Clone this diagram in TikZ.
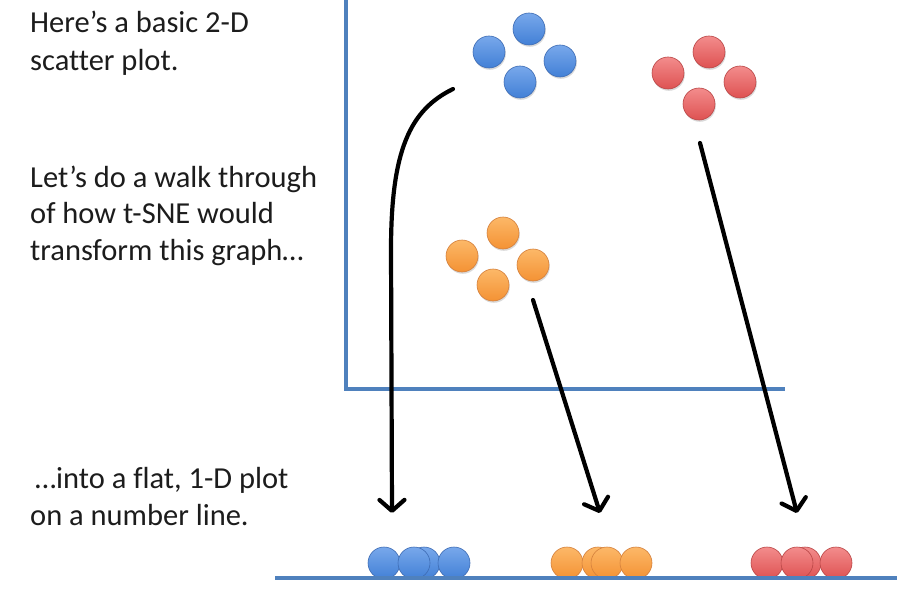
\documentclass[tikz,border=0pt]{standalone}
\usepackage{fontspec}
\setmainfont{Carlito}[Ligatures={NoCommon}]
\usetikzlibrary{arrows.meta}
\definecolor{axisblue}{RGB}{79,129,189}
\definecolor{bluetop}{RGB}{120,168,235}
\definecolor{bluebot}{RGB}{66,128,214}
\definecolor{blueedge}{RGB}{62,108,180}
\definecolor{redtop}{RGB}{243,140,140}
\definecolor{redbot}{RGB}{222,82,82}
\definecolor{rededge}{RGB}{185,70,70}
\definecolor{orgtop}{RGB}{252,184,104}
\definecolor{orgbot}{RGB}{244,146,52}
\definecolor{orgedge}{RGB}{212,128,60}
\definecolor{txt}{RGB}{28,28,28}
\tikzset{
  ball/.style={circle, minimum size=32pt, inner sep=0pt, line width=0.6pt},
  blueball/.style={ball, top color=bluetop, bottom color=bluebot, draw=blueedge},
  redball/.style={ball, top color=redtop, bottom color=redbot, draw=rededge},
  orgball/.style={ball, top color=orgtop, bottom color=orgbot, draw=orgedge},
  shadowball/.style={circle, minimum size=32pt, inner sep=0pt, fill=black, opacity=0.15},
  axis/.style={draw=axisblue, line width=3.2pt},
  mover/.style={draw=black, line width=4.2pt, line cap=round,
    -{Straight Barb[length=11pt,width=25pt,line width=4.2pt,line cap=round,line join=round]}},
  label/.style={anchor=base west, inner sep=0pt, text=txt, font=\fontsize{30.5}{37}\selectfont}
}
\begin{document}
\begin{tikzpicture}[x=1pt,y=-1pt]
\useasboundingbox (0,0) rectangle (917,604);
\fill[white] (0,0) rectangle (917,604);

% text
\node[label] (t1) at (30,33) {Here’s a basic 2-D};
\node[label] (t2) at (30,71) {scatter plot.};
\node[label] (t3) at (30,187) {Let’s do a walk through};
\node[label] (t4) at (30,223) {of how t-SNE would};
\node[label] (t5) at (30,260) {transform this graph…};
\node[label] (t6) at (35,488) {…into a flat, 1-D plot};
\node[label] (t7) at (30,525) {on a number line.};

% axes
\coordinate (ytop) at (346,0);
\coordinate (orig) at (346,389);
\coordinate (xend) at (785,389);
\draw[axis] (ytop) -- (orig) -- (xend);

% 2-D clusters
\foreach \n/\x/\y in {b1/489/52, b2/529/29, b3/560/61, b4/520/82}{
  \node[shadowball] at (\x+0.8,\y+1.8) {};
  \node[blueball] (\n) at (\x,\y) {};
}
\foreach \n/\x/\y in {r1/668/73, r2/709/52, r3/740/82, r4/699/104}{
  \node[shadowball] at (\x+0.8,\y+1.8) {};
  \node[redball] (\n) at (\x,\y) {};
}
\foreach \n/\x/\y in {o1/462/256, o2/503/233, o3/533/265, o4/493/285}{
  \node[shadowball] at (\x+0.8,\y+1.8) {};
  \node[orgball] (\n) at (\x,\y) {};
}

% 1-D clusters
\foreach \n/\x in {lb1/384, lb3/424, lb2/414, lb4/454}{
  \node[blueball] (\n) at (\x,563) {};
}
\foreach \n/\x in {lo1/567, lo2/598, lo3/607, lo4/636}{
  \node[orgball] (\n) at (\x,563) {};
}
\foreach \n/\x in {lr1/767, lr3/805, lr2/797, lr4/836}{
  \node[redball] (\n) at (\x,563) {};
}

% number line
\coordinate (nl0) at (275,578);
\coordinate (nl1) at (897,578);
\draw[axis] (nl0) -- (nl1);

% arrows
\coordinate (bs) at (453,89);
\coordinate (bm) at (391,250);
\coordinate (be) at (392,513);
\draw[mover] (bs) .. controls (410,110) and (391,150) .. (bm) -- (be);
\coordinate (os) at (533,300);
\coordinate (oe) at (600,513);
\draw[mover] (os) -- (oe);
\coordinate (rs) at (700,143);
\coordinate (re) at (797,513);
\draw[mover] (rs) -- (re);
\end{tikzpicture}
\end{document}
